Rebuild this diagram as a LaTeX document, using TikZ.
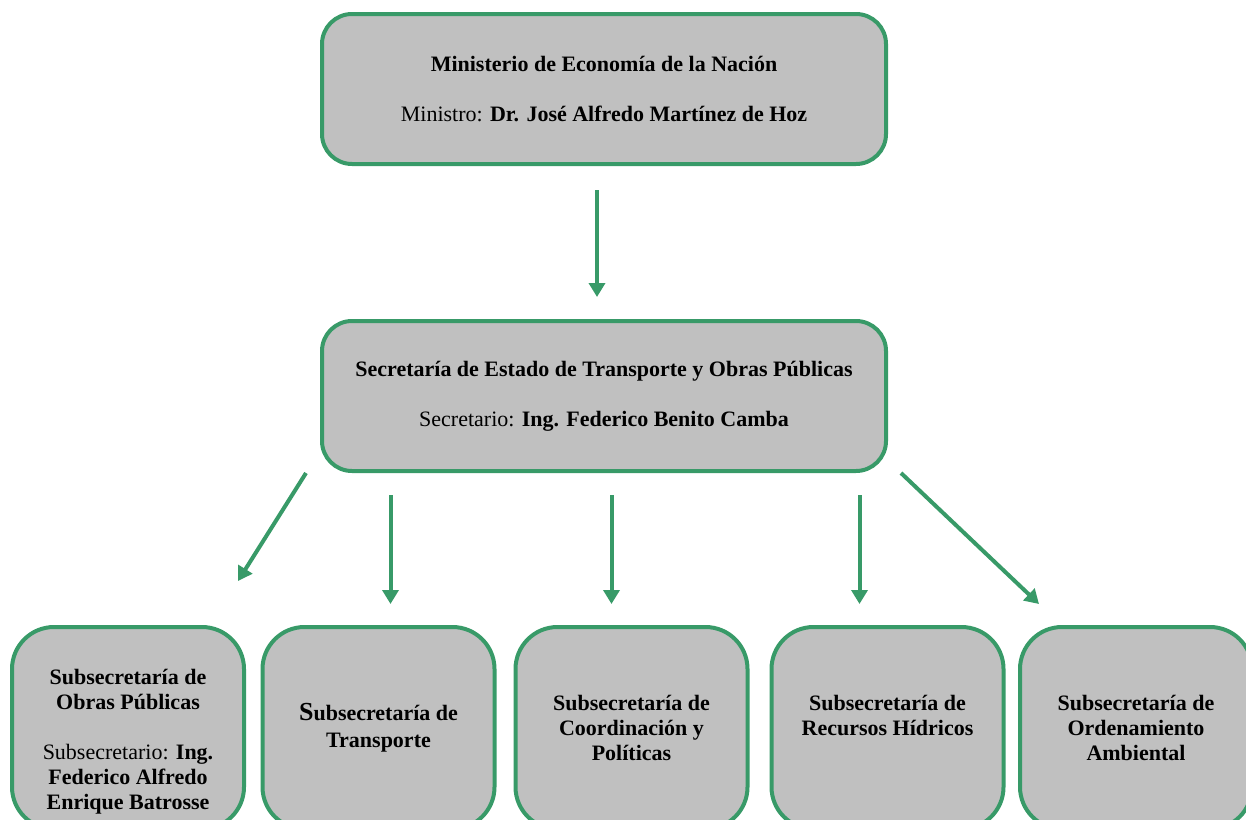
\documentclass[tikz,border=0pt]{standalone}
\usepackage{fontspec}
\setmainfont{Liberation Serif}
\usetikzlibrary{positioning}
\usetikzlibrary{calc}
\usetikzlibrary{arrows.meta}
\definecolor{OrgGreen}{RGB}{56,154,104}
\definecolor{OrgGray}{RGB}{192,192,192}

\begin{document}
\begin{tikzpicture}[x=0.5pt, y=-0.5pt, >={Triangle[length=7pt,width=8pt]},
  bigbox/.style={draw=OrgGreen, line width=2pt, fill=OrgGray, rounded corners=15pt,
    minimum width=282pt, minimum height=75pt, inner sep=0pt, align=center,
    font=\fontsize{11}{12.5}\selectfont},
  subbox/.style={bigbox, rounded corners=21pt, minimum width=116pt, minimum height=101pt},
  link/.style={OrgGreen, line width=2pt, ->}]
\useasboundingbox (0,0) rectangle (1246,819);

\node[bigbox] (min) at (604,89)
  {\textbf{Ministerio de Economía de la Nación}\\[12.5pt]
   Ministro: \textbf{Dr. José Alfredo Martínez de Hoz}};
\node[bigbox] (sec) at (604,396)
  {\textbf{Secretaría de Estado de Transporte y Obras Públicas}\\[12.5pt]
   Secretario: \textbf{Ing. Federico Benito Camba}};

\node[subbox] (sub1) at (128,728)
  {\strut\\ \textbf{Subsecretaría de}\\ \textbf{Obras Públicas}\\[12.5pt]
   Subsecretario: \textbf{Ing.}\\ \textbf{Federico Alfredo}\\ \textbf{Enrique Batrosse}};
\node[subbox] (sub2) at (378.5,728)
  {\textbf{{\fontsize{13}{12.5}\selectfont S}ubsecretaría de}\\[1pt] \textbf{Transporte}};
\node[subbox] (sub3) at (631.5,728)
  {\textbf{Subsecretaría de}\\ \textbf{Coordinación y}\\ \textbf{Políticas}};
\node[subbox] (sub4) at (887.5,728)
  {\textbf{Subsecretaría de}\\ \textbf{Recursos Hídricos}\\[0pt] \mbox{}};
\node[subbox] (sub5) at (1136,728)
  {\textbf{Subsecretaría de}\\ \textbf{Ordenamiento}\\ \textbf{Ambiental}};

\draw[link, shorten <=12pt, shorten >=11pt] ([xshift=-3.5pt]min.south) -- ([xshift=-3.5pt]sec.north);

\draw[link] ($(sec.south west)+(-14,0)$) -- ($(sub1.north east)+(-8,-44)$);
\foreach \sub/\dx in {sub2/12, sub3/-20, sub4/-28}
  \draw[link] ($(sec.south -| \sub.north)+(\dx,22)$) -- ($(\sub.north)+(\dx,-21)$);
\draw[link] ($(sec.south east)+(13,0)$) -- ($(sub5.north west)+(21,-21)$);

\end{tikzpicture}
\end{document}
